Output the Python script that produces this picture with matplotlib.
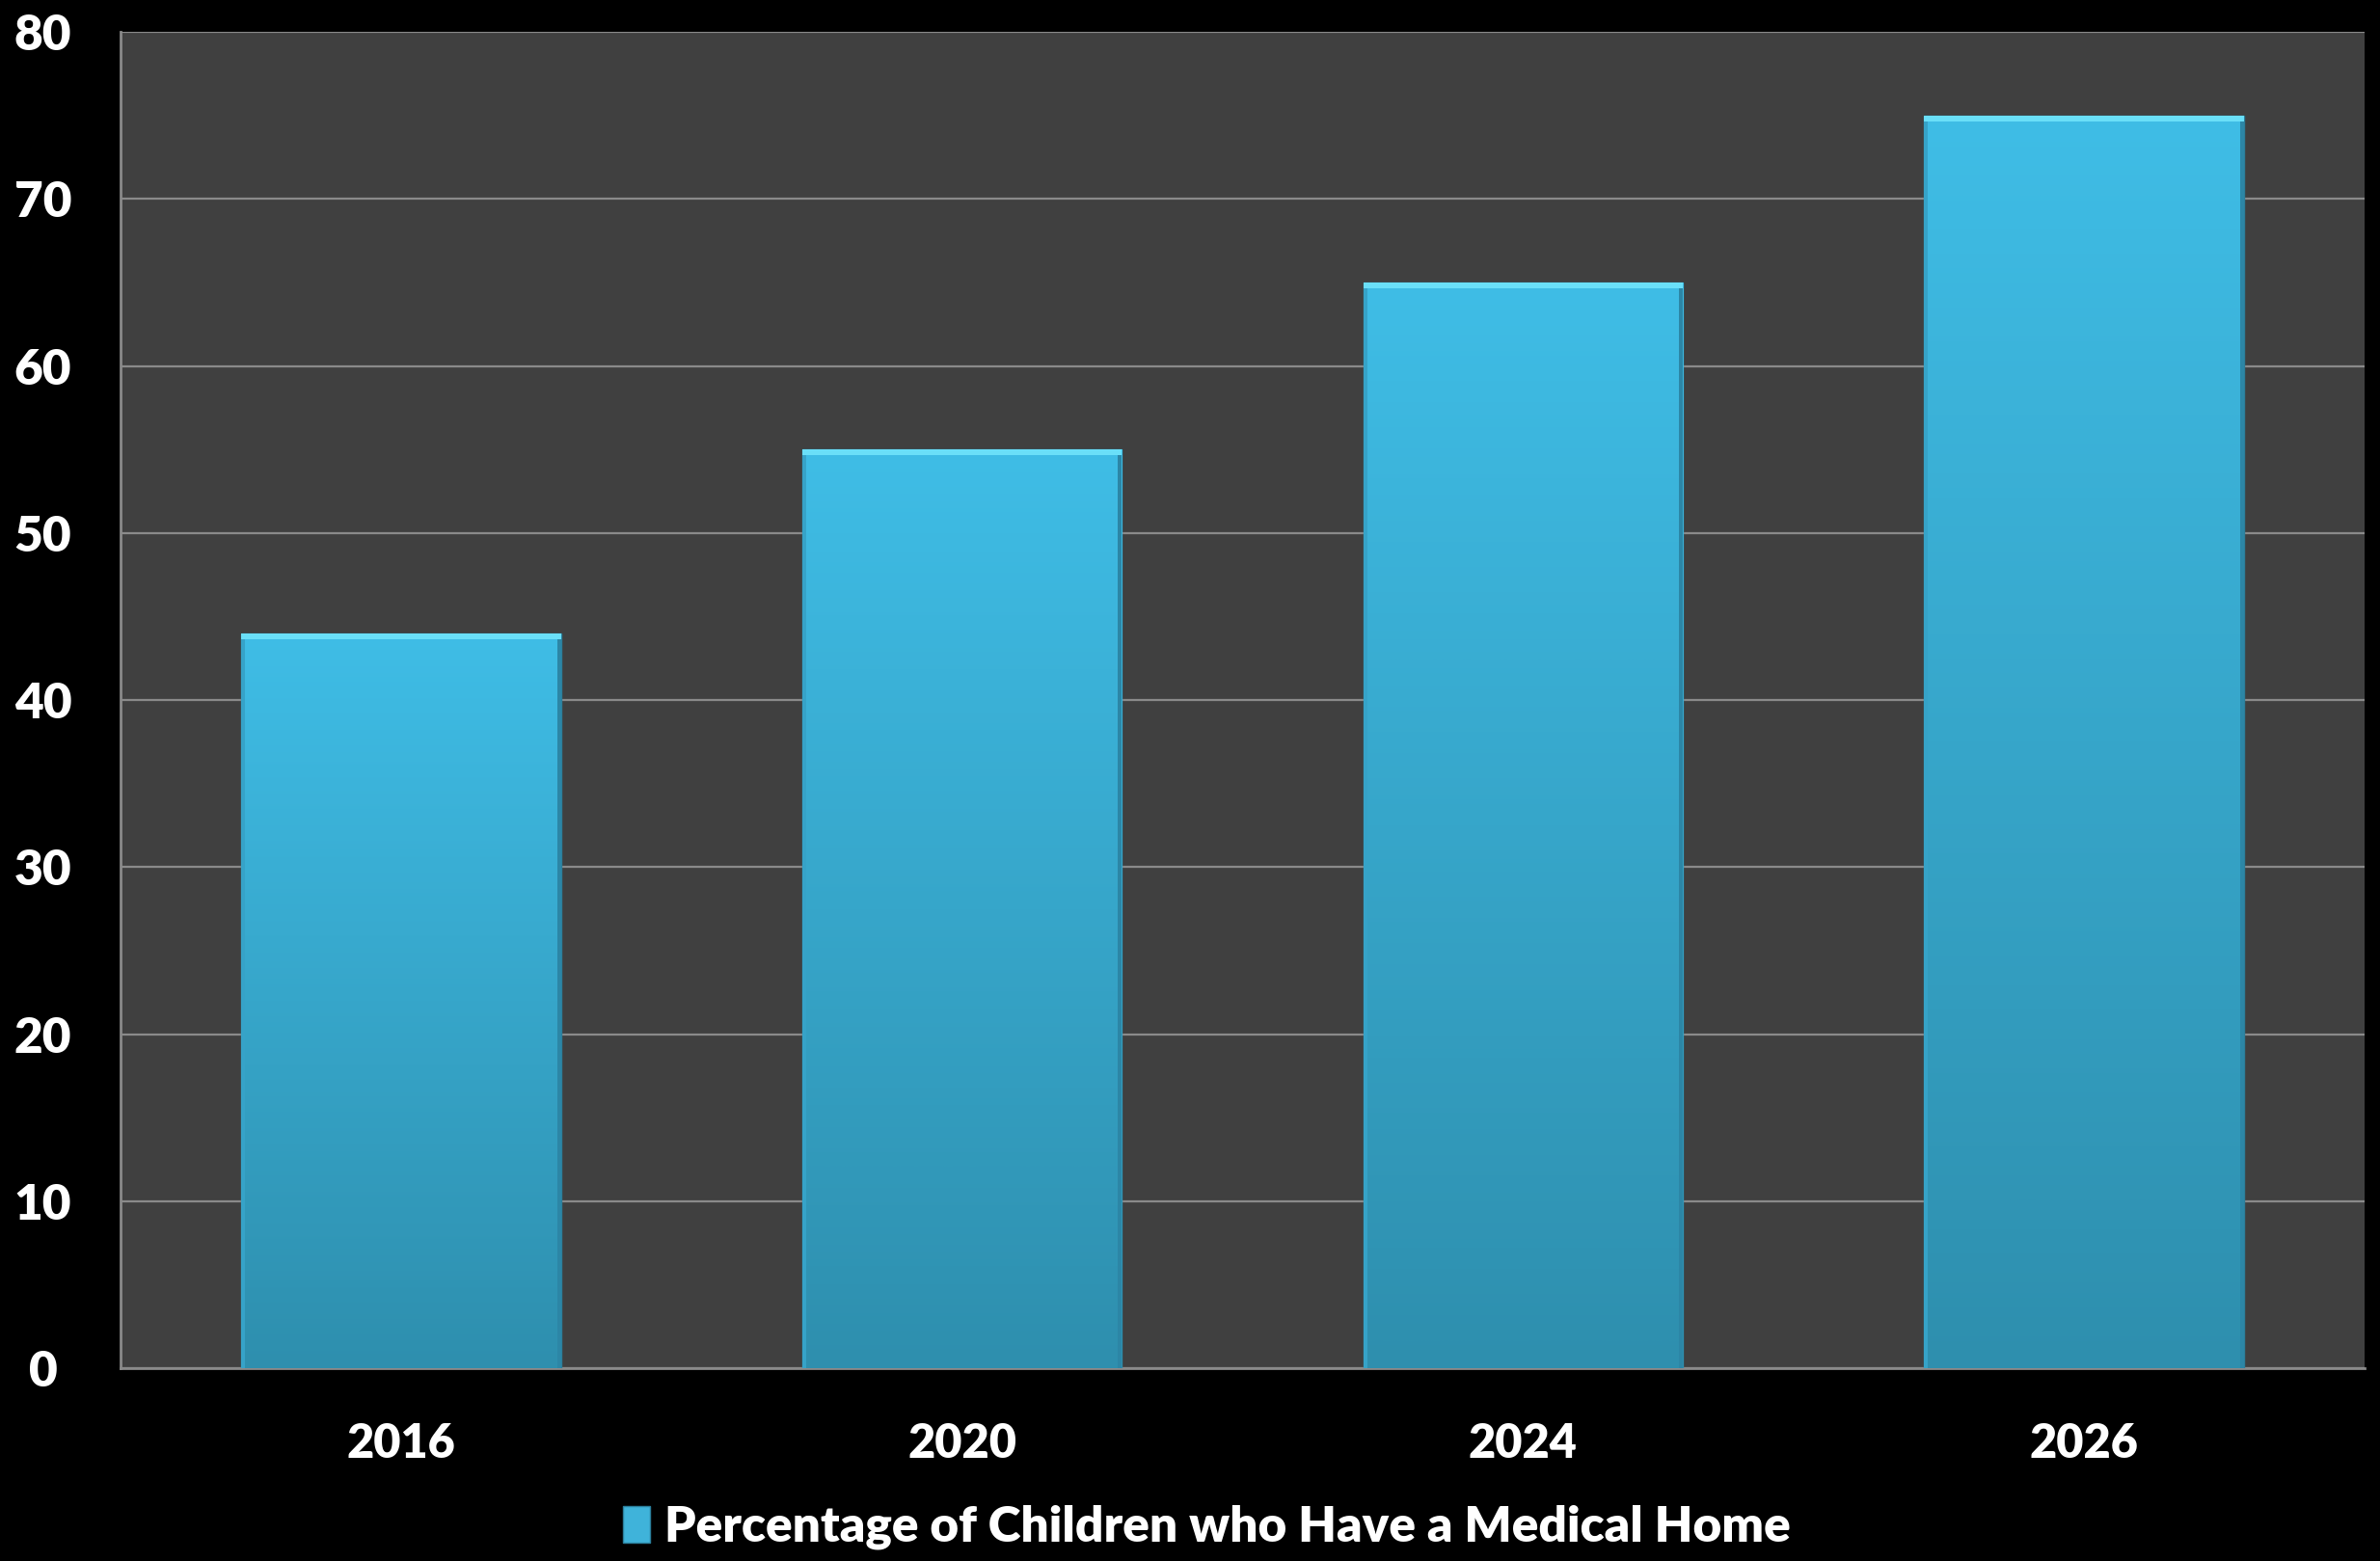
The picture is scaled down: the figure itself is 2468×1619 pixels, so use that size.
import numpy as np
import matplotlib
matplotlib.use("Agg")
import matplotlib.pyplot as plt
from matplotlib.colors import LinearSegmentedColormap
from matplotlib.patches import Rectangle

years = ["2016", "2020", "2024", "2026"]
values = [44, 55, 65, 75]
series_name = "Percentage of Children who Have a Medical Home"
yticks = [0, 10, 20, 30, 40, 50, 60, 70, 80]

plt.rcParams['font.family'] = ['Lato', 'DejaVu Sans']

W, H = 2468, 1619
fig = plt.figure(figsize=(W / 100, H / 100), dpi=100, facecolor='black')
ax = fig.add_axes([125 / W, 1 - 1419 / H, (2452 - 125) / W, (1419 - 33) / H])
ax.set_facecolor('#404040')

x = np.arange(len(years))
bw = 0.57
bars = ax.bar(x, values, width=bw, color='#38A8CF', edgecolor='#2B7F9C', linewidth=1.0, zorder=3)

cmap = LinearSegmentedColormap.from_list('g', ['#2E8FAE', '#3FBDE6'])
grad = np.linspace(0, 1, 256).reshape(-1, 1)
for b in bars:
    x0, w, h = b.get_x(), b.get_width(), b.get_height()
    im = ax.imshow(grad, extent=[x0, x0 + w, 0, h], origin='lower', cmap=cmap,
                   aspect='auto', zorder=3.5, interpolation='bicubic')
    im.set_clip_path(b)
    ax.add_patch(Rectangle((x0, h - 0.35), w, 0.35, facecolor='#6ADFF8', edgecolor='none', zorder=4))
    dx = w * 0.012
    ax.add_patch(Rectangle((x0 + w - dx, 0), dx, h - 0.35, facecolor='#2C86A6', edgecolor='none', zorder=4))
    ax.add_patch(Rectangle((x0, 0), dx, h - 0.35, facecolor='#36A3C8', edgecolor='none', zorder=4))

ax.set_xlim(-0.5, len(years) - 0.5)
ax.set_ylim(0, 80)
ax.set_yticks(yticks)
ax.set_yticklabels([str(t) for t in yticks])
ax.set_xticks(x)
ax.set_xticklabels(years)
ax.yaxis.grid(True, color='#8A8A8A', linewidth=1.6, zorder=1)
ax.set_axisbelow(True)
for s in ['top', 'right']:
    ax.spines[s].set_visible(False)
for s in ['left', 'bottom']:
    ax.spines[s].set_color('#8A8A8A')
    ax.spines[s].set_linewidth(2)
ax.tick_params(axis='both', length=0, colors='white')
ax.tick_params(axis='y', labelsize=37, pad=58)
ax.tick_params(axis='x', labelsize=35, pad=40)
for lab in ax.get_xticklabels() + ax.get_yticklabels():
    lab.set_fontweight('heavy')
for lab in ax.get_yticklabels():
    lab.set_horizontalalignment('center')

leg = ax.legend([Rectangle((0, 0), 1, 1, facecolor='#3FB3DA', edgecolor='#2B7F9C')], [series_name],
                loc='center', bbox_to_anchor=(0.484, -0.119), frameon=False,
                prop={'weight': 'heavy', 'size': 37}, handlelength=0.55, handleheight=0.75,
                handletextpad=0.3)
for t in leg.get_texts():
    t.set_color('white')

fig.savefig('out.png', dpi=100, facecolor='black')
